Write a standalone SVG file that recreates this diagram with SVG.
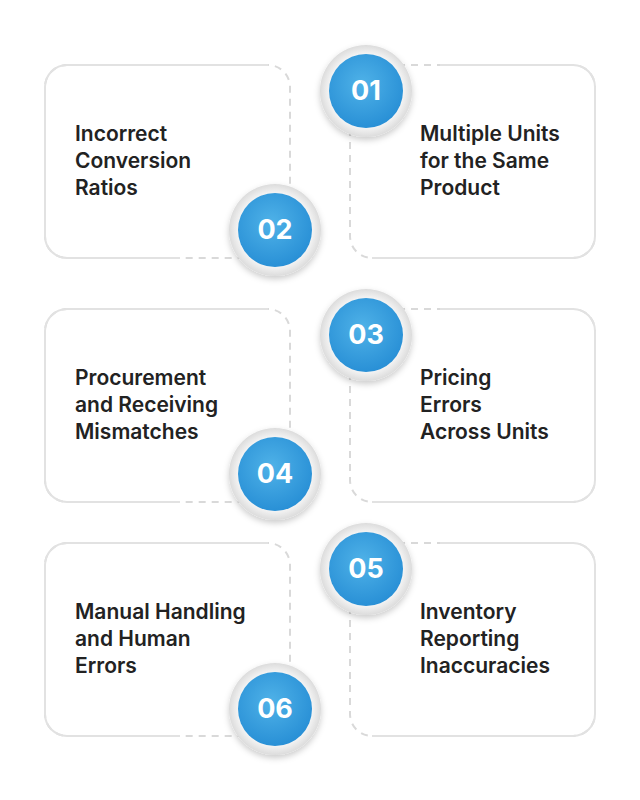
<svg xmlns="http://www.w3.org/2000/svg" width="640" height="800" viewBox="0 0 640 800">
<style>
.dash{fill:none;stroke:#d9d9d9;stroke-width:2;stroke-dasharray:7 6}
.solid{fill:none;stroke:#e2e2e2;stroke-width:2}
.t{font-family:Inter,"Liberation Sans",sans-serif;font-weight:600;font-size:21px;fill:#222}
.n{font-family:Inter,"Liberation Sans",sans-serif;font-weight:700;font-size:27px;fill:#fff;text-anchor:middle}
</style>
<defs>
<radialGradient id="bg" cx="0.45" cy="0.4" r="0.6"><stop offset="0" stop-color="#4fb2e8"/><stop offset="1" stop-color="#2990d6"/></radialGradient>
<radialGradient id="rg" cx="0.5" cy="0.5" r="0.5"><stop offset="0.8" stop-color="#f4f4f4"/><stop offset="1" stop-color="#dcdcdc"/></radialGradient>
<filter id="sh" x="-30%" y="-30%" width="160%" height="160%"><feDropShadow dx="0" dy="3" stdDeviation="3" flood-color="#000" flood-opacity="0.2"/></filter>
<g id="pair">
<rect class="dash" x="45" y="65" width="245" height="193" rx="22"/>
<path class="solid" d="M180 258 H67 A22 22 0 0 1 45 236 V87 A22 22 0 0 1 67 65 H268"/>
<rect class="dash" x="350" y="65" width="245" height="193" rx="22"/>
<path class="solid" d="M440 65 H573 A22 22 0 0 1 595 87 V236 A22 22 0 0 1 573 258 H372"/>
</g>
<g id="c"><circle r="46" fill="url(#rg)" filter="url(#sh)"/><circle r="37" fill="url(#bg)"/></g>
</defs>
<g id="connectors">
<use href="#pair"/>
<use href="#pair" y="244"/>
<use href="#pair" y="478"/>
</g>
<g id="card1"><text class="t" x="75" y="141">Incorrect</text><text class="t" x="75" y="168">Conversion</text><text class="t" x="75" y="195">Ratios</text></g>
<g id="card2"><text class="t" x="420" y="141">Multiple Units</text><text class="t" x="420" y="168">for the Same</text><text class="t" x="420" y="195">Product</text></g>
<g id="card3"><text class="t" x="75" y="385">Procurement</text><text class="t" x="75" y="412">and Receiving</text><text class="t" x="75" y="439">Mismatches</text></g>
<g id="card4"><text class="t" x="420" y="385">Pricing</text><text class="t" x="420" y="412">Errors</text><text class="t" x="420" y="439">Across Units</text></g>
<g id="card5"><text class="t" x="75" y="619">Manual Handling</text><text class="t" x="75" y="646">and Human</text><text class="t" x="75" y="673">Errors</text></g>
<g id="card6"><text class="t" x="420" y="619">Inventory</text><text class="t" x="420" y="646">Reporting</text><text class="t" x="420" y="673">Inaccuracies</text></g>
<g id="n01"><use href="#c" x="366" y="91"/><text class="n" x="366" y="100">01</text></g>
<g id="n02"><use href="#c" x="275" y="230"/><text class="n" x="275" y="239">02</text></g>
<g id="n03"><use href="#c" x="366" y="335"/><text class="n" x="366" y="344">03</text></g>
<g id="n04"><use href="#c" x="275" y="474"/><text class="n" x="275" y="483">04</text></g>
<g id="n05"><use href="#c" x="366" y="569"/><text class="n" x="366" y="578">05</text></g>
<g id="n06"><use href="#c" x="275" y="709"/><text class="n" x="275" y="718">06</text></g>
</svg>
